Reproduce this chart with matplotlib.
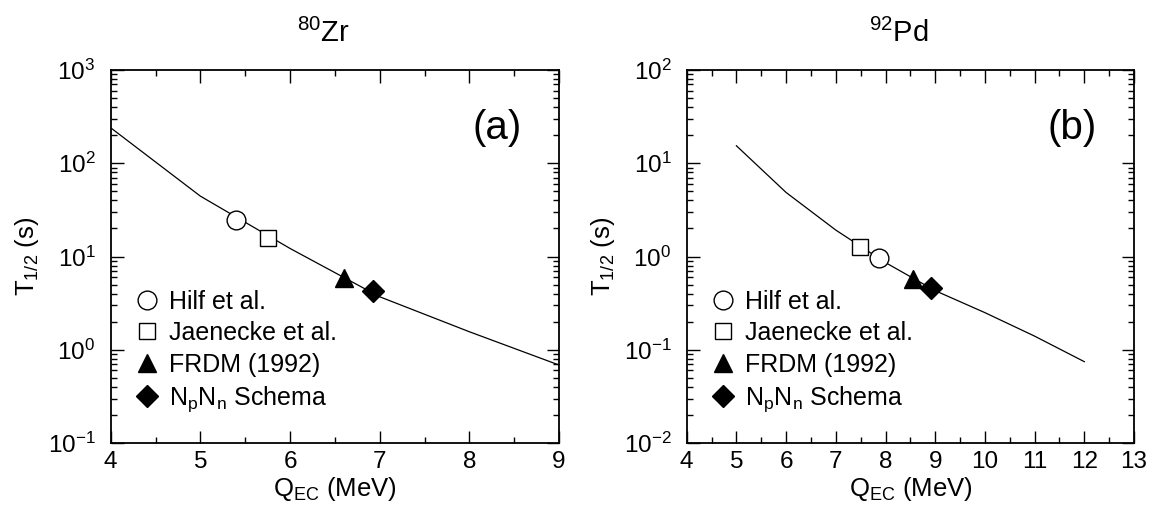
import numpy as np
import matplotlib
matplotlib.use("Agg")
import matplotlib.pyplot as plt
from matplotlib.ticker import LogLocator, MultipleLocator, LogFormatterSciNotation

plt.rcParams['font.family'] = ['Liberation Sans', 'DejaVu Sans']
plt.rcParams['mathtext.fontset'] = 'custom'
plt.rcParams['mathtext.rm'] = 'Liberation Sans'
plt.rcParams['mathtext.it'] = 'Liberation Sans'
plt.rcParams['mathtext.default'] = 'rm'

# 80Zr: calculated half-life vs Q_EC, and mass-model predictions
q_zr = [4, 5, 6, 7, 8, 9]
t_zr = [240, 44.4, 12.2, 3.7, 1.56, 0.686]
pts_zr_q = [5.40, 5.75, 6.60, 6.93]
pts_zr_t = [24.5, 15.8, 5.9, 4.3]

# 92Pd
q_pd = [5, 6, 7, 8, 9, 10, 11, 12]
t_pd = [15.4, 4.86, 1.92, 0.86, 0.43, 0.25, 0.140, 0.0745]
pts_pd_q = [7.87, 7.48, 8.56, 8.915]
pts_pd_t = [0.955, 1.27, 0.569, 0.456]

model_labels = ['Hilf et al.', 'Jaenecke et al.', 'FRDM (1992)',
                r'N$_\mathregular{p}$N$_\mathregular{n}$ Schema']
model_styles = [dict(marker='o', mfc='white', ms=13.5),
                dict(marker='s', mfc='white', ms=12),
                dict(marker='^', mfc='black', ms=13.5),
                dict(marker='D', mfc='black', ms=11.5)]

W, H = 1152, 509
fig = plt.figure(figsize=(W / 100, H / 100), dpi=100)
ax1 = fig.add_axes([110.7 / W, 1 - 443 / H, 448.3 / W, 373 / H])
ax2 = fig.add_axes([686.7 / W, 1 - 443 / H, 447.3 / W, 373 / H])


def setup(ax, xlim, ylim, title, tag):
    ax.set_yscale('log')
    ax.set_xlim(*xlim)
    ax.set_ylim(*ylim)
    ax.xaxis.set_major_locator(MultipleLocator(1))
    ax.xaxis.set_minor_locator(MultipleLocator(0.5))
    ax.yaxis.set_major_locator(LogLocator(base=10))
    ax.yaxis.set_minor_locator(LogLocator(base=10, subs=np.arange(2, 10)))
    ax.yaxis.set_major_formatter(LogFormatterSciNotation())
    ax.tick_params(which='both', direction='in', top=True, right=True,
                   labelsize=17.5, width=1.0)
    ax.tick_params(which='major', length=9)
    ax.tick_params(which='minor', length=4.5)
    ax.tick_params(axis='x', pad=6)
    ax.tick_params(axis='y', pad=11)
    for s in ax.spines.values():
        s.set_linewidth(1.3)
    ax.set_xlabel(r'Q$_\mathregular{EC}$ (MeV)', fontsize=18.5, labelpad=1)
    ax.set_ylabel(r'T$_\mathregular{1/2}$ (s)', fontsize=18.5, labelpad=5)
    ax.text(0.475, 1.075, title, transform=ax.transAxes, fontsize=21,
            ha='center', va='baseline')
    ax.text(0.862, 0.845, tag, transform=ax.transAxes, fontsize=29,
            ha='center', va='center')


def draw(ax, q, t, pq, pt):
    ax.plot(q, t, color='black', lw=0.9)
    handles = []
    for x, y, st in zip(pq, pt, model_styles):
        h, = ax.plot([x], [y], ls='none', mec='black', mew=1.0,
                     color='black', **st)
        handles.append(h)
    ax.legend(handles, model_labels, loc='center left',
              bbox_to_anchor=(0.055, 0.245), frameon=False, fontsize=18,
              handlelength=0.9, handletextpad=0.44, labelspacing=0.3,
              borderaxespad=0.0, borderpad=0.0)


setup(ax1, (4, 9), (0.1, 1000), r'$^{80}$Zr', '(a)')
draw(ax1, q_zr, t_zr, pts_zr_q, pts_zr_t)

setup(ax2, (4, 13), (0.01, 100), r'$^{92}$Pd', '(b)')
draw(ax2, q_pd, t_pd, pts_pd_q, pts_pd_t)

fig.savefig('out.png', dpi=100)
